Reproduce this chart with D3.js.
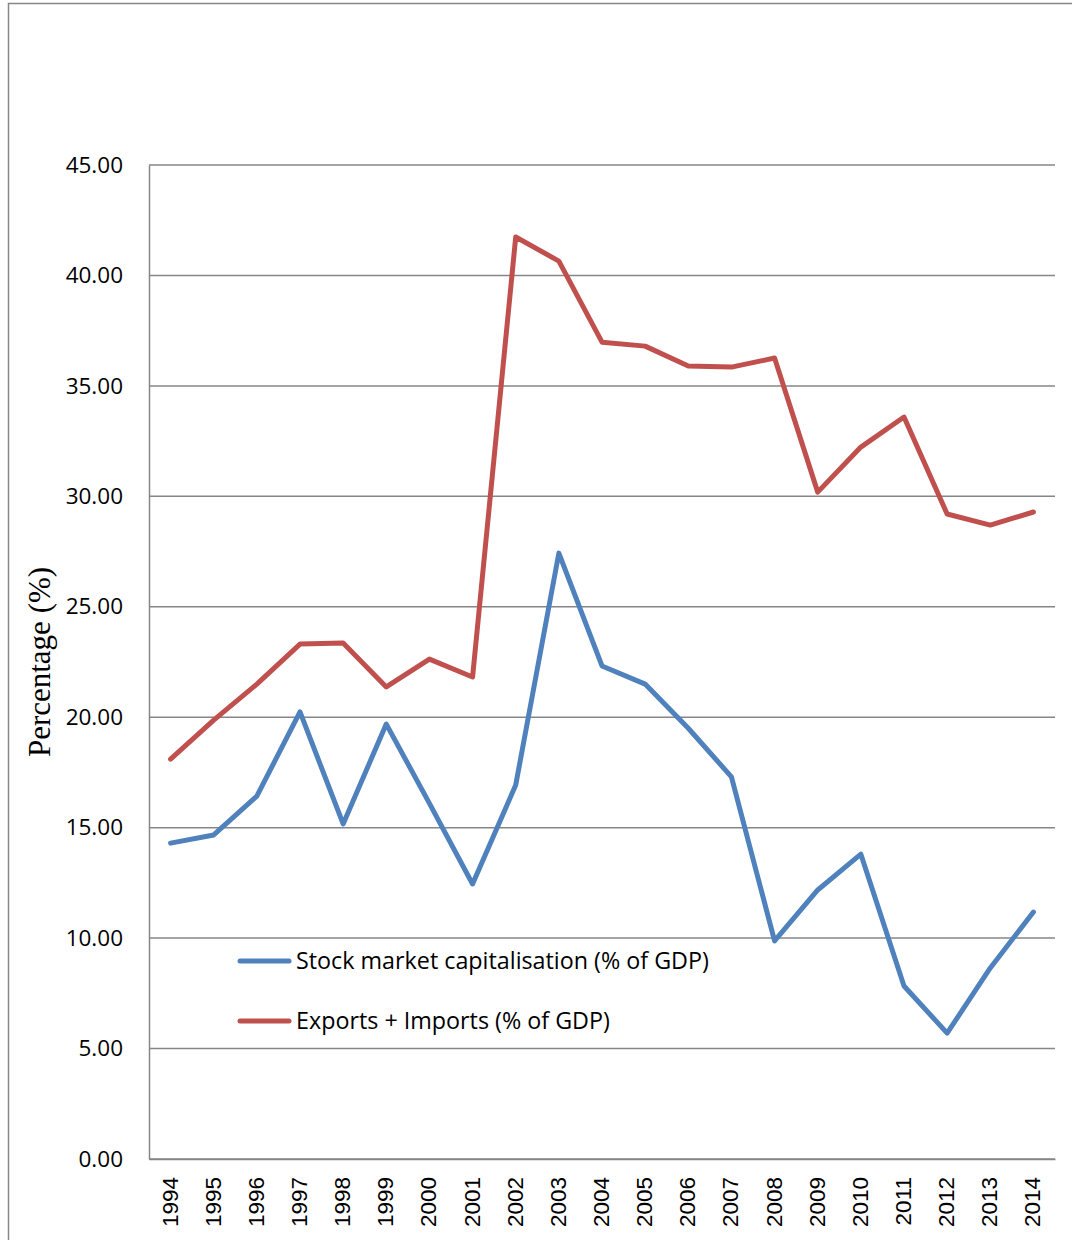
<!DOCTYPE html>
<html>
<head>
<meta charset="utf-8">
<script src="https://cdn.jsdelivr.net/npm/d3@7"></script>
<style>
  body { margin: 0; background: #fff; }
  svg { display: block; }
</style>
</head>
<body>
<div id="graph"><svg></svg></div>
<script>
// data
let years = ["1994", "1995", "1996", "1997", "1998", "1999", "2000", "2001", "2002", "2003", "2004",
  "2005", "2006", "2007", "2008", "2009", "2010", "2011", "2012", "2013", "2014"];
let stockCap = [14.30, 14.67, 16.43, 20.24, 15.17, 19.69, 16.10, 12.45, 16.93, 27.43, 22.32,
  21.50, 19.50, 17.30, 9.87, 12.18, 13.80, 7.83, 5.70, 8.65, 11.18];
let trade = [18.10, 19.87, 21.50, 23.31, 23.36, 21.37, 22.63, 21.82, 41.74, 40.65, 36.98,
  36.80, 35.90, 35.85, 36.26, 30.19, 32.23, 33.59, 29.20, 28.70, 29.29];
let yTicks = [0, 5, 10, 15, 20, 25, 30, 35, 40, 45];
let seriesNames = ["Stock market capitalisation (% of GDP)", "Exports + Imports (% of GDP)"];
let seriesColors = ["#4F81BD", "#C0504D"];

let width = 1072, height = 1240;
let margins = { top: 165, right: 17, bottom: 81, left: 149 };
let innerWidth = width - margins.left - margins.right;
let innerHeight = height - margins.top - margins.bottom;

let svg = d3.select("div#graph svg")
  .attr("width", width)
  .attr("height", height);

// outer chart frame (only left and top edges are inside the picture)
svg.append("path")
  .attr("d", "M8.5," + height + "V3.5H" + width)
  .attr("fill", "none")
  .attr("stroke", "#878787")
  .attr("stroke-width", 1.5);

let g = svg.append("g")
  .attr("transform", "translate(" + margins.left + "," + margins.top + ")");

let xScale = d3.scaleBand().domain(years).range([0, innerWidth]);
let yScale = d3.scaleLinear().domain([0, 45]).range([innerHeight, 0]);

// gridlines
g.append("g")
  .selectAll("line")
  .data(yTicks)
  .join("line")
  .attr("x1", 0)
  .attr("x2", innerWidth)
  .attr("y1", (d) => yScale(d))
  .attr("y2", (d) => yScale(d))
  .attr("stroke", "#868686")
  .attr("stroke-width", 1.5);

// y axis
let yAxis = g.append("g")
  .call(d3.axisLeft(yScale).tickValues(yTicks).tickFormat(d3.format(".2f")).tickSize(0).tickPadding(26));
yAxis.select(".domain").attr("stroke", "#868686").attr("stroke-width", 1.5);
yAxis.selectAll("text")
  .style("font-family", "'Open Sans', 'Noto Sans', sans-serif")
  .style("font-size", "22.5px")
  .attr("fill", "#000");

// x axis
let xAxis = g.append("g")
  .attr("transform", "translate(0," + innerHeight + ")")
  .call(d3.axisBottom(xScale).tickSize(0));
xAxis.select(".domain").attr("stroke", "#868686").attr("stroke-width", 1.5);
xAxis.selectAll("text")
  .style("font-family", "'Liberation Sans', Arial, sans-serif")
  .style("font-size", "22.5px")
  .attr("fill", "#000")
  .attr("text-anchor", "end")
  .attr("x", 0)
  .attr("y", 8)
  .attr("dy", null)
  .attr("transform", "translate(-1,18) rotate(-90)");

// y title
svg.append("text")
  .attr("transform", "translate(50,662) rotate(-90)")
  .attr("text-anchor", "middle")
  .style("font-family", "'Liberation Serif', 'Times New Roman', serif")
  .style("font-size", "31px")
  .attr("fill", "#000")
  .text("Percentage (%)");

// lines
let line = d3.line()
  .x((d, i) => xScale(years[i]) + xScale.bandwidth() / 2)
  .y((d) => yScale(d));

[stockCap, trade].forEach(function (vals, k) {
  g.append("path")
    .datum(vals)
    .attr("d", line)
    .attr("fill", "none")
    .attr("stroke", seriesColors[k])
    .attr("stroke-width", 5)
    .attr("stroke-linejoin", "round")
    .attr("stroke-linecap", "round");
});

// legend
let legend = svg.append("g");
seriesNames.forEach(function (name, k) {
  let ly = 961 + k * 60;
  legend.append("line")
    .attr("x1", 240).attr("x2", 289)
    .attr("y1", ly).attr("y2", ly)
    .attr("stroke", seriesColors[k])
    .attr("stroke-width", 5)
    .attr("stroke-linecap", "round");
  legend.append("text")
    .attr("x", 296)
    .attr("y", ly + 8)
    .style("font-family", "'Open Sans', 'Noto Sans', sans-serif")
    .style("font-size", "23.3px")
    .attr("fill", "#000")
    .text(name);
});
</script>
</body>
</html>
